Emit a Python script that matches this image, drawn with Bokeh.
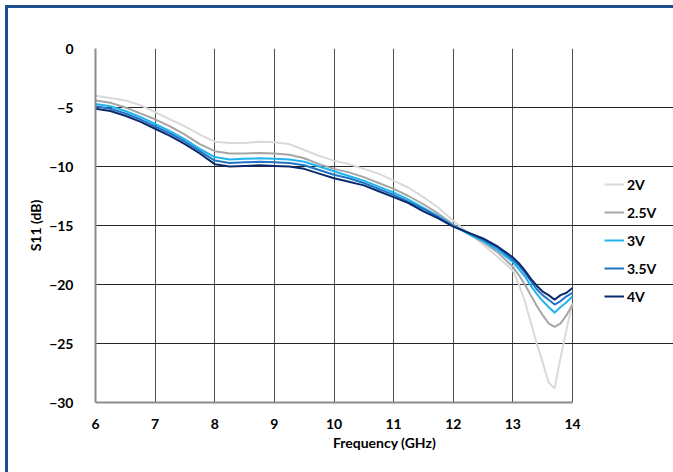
from bokeh.plotting import figure
from bokeh.models import Range1d, FixedTicker, Legend, LegendItem
from bokeh.embed import file_html
from bokeh.resources import INLINE

freq = [6.0, 6.25, 6.5, 6.75, 7.0, 7.25, 7.5, 7.75, 8.0, 8.25, 8.5, 8.75, 9.0, 9.25,
        9.5, 9.75, 10.0, 10.25, 10.5, 10.75, 11.0, 11.25, 11.5, 11.75, 12.0, 12.25,
        12.5, 12.75, 13.0, 13.1, 13.2, 13.3, 13.4, 13.5, 13.6, 13.7, 13.8, 13.9, 14.0]

s11_2v = [-4.0, -4.2, -4.4, -4.8, -5.4, -6.0, -6.6, -7.3, -7.9, -8.0, -8.0, -7.9, -7.95, -8.1,
          -8.6, -9.1, -9.5, -9.8, -10.2, -10.6, -11.2, -11.8, -12.6, -13.5, -14.6, -15.6,
          -16.6, -17.7, -18.8, -20.0, -21.4, -23.2, -25.0, -26.6, -28.3, -28.8, -26.2, -23.8, -21.6]
s11_25v = [-4.4, -4.6, -5.0, -5.5, -6.0, -6.6, -7.3, -8.1, -8.7, -8.9, -8.9, -8.85, -8.9, -9.0,
           -9.3, -9.8, -10.2, -10.5, -10.9, -11.4, -11.9, -12.5, -13.2, -14.0, -14.9, -15.7,
           -16.4, -17.3, -18.5, -19.2, -20.0, -20.9, -21.8, -22.6, -23.3, -23.6, -23.3, -22.6, -21.7]
s11_3v = [-4.7, -4.9, -5.3, -5.8, -6.4, -7.0, -7.7, -8.5, -9.2, -9.4, -9.35, -9.3, -9.35, -9.4,
          -9.6, -10.0, -10.4, -10.8, -11.2, -11.7, -12.2, -12.8, -13.5, -14.2, -15.0, -15.7,
          -16.3, -17.1, -18.1, -18.7, -19.3, -20.1, -20.8, -21.4, -21.9, -22.4, -21.9, -21.5, -21.0]
s11_35v = [-4.9, -5.1, -5.5, -6.0, -6.6, -7.2, -7.9, -8.7, -9.5, -9.7, -9.65, -9.6, -9.65, -9.7,
           -9.9, -10.3, -10.7, -11.0, -11.4, -11.9, -12.4, -13.0, -13.6, -14.3, -15.05, -15.6,
           -16.2, -16.9, -17.9, -18.4, -19.0, -19.7, -20.4, -20.9, -21.3, -21.7, -21.4, -21.0, -20.7]
s11_4v = [-5.1, -5.3, -5.7, -6.2, -6.8, -7.4, -8.1, -8.9, -9.8, -10.0, -9.95, -9.9, -9.95, -10.0,
          -10.2, -10.6, -11.0, -11.3, -11.6, -12.1, -12.6, -13.1, -13.8, -14.4, -15.1, -15.6,
          -16.1, -16.8, -17.7, -18.2, -18.8, -19.5, -20.1, -20.6, -20.9, -21.3, -20.9, -20.7, -20.3]

series_labels = ["2V", "2.5V", "3V", "3.5V", "4V"]
series_values = [s11_2v, s11_25v, s11_3v, s11_35v, s11_4v]
series_colors = ["#d9d9d9", "#a6a6a6", "#1fb4f0", "#1f74c4", "#0b2a6b"]

x_ticks = [6, 7, 8, 9, 10, 11, 12, 13, 14]
y_ticks = [0, -5, -10, -15, -20, -25, -30]

FONT = "Lato"
X_MIN, X_MAX = 6, 14
W, H = 673, 472
# extra room on the right of the plot area (in GHz units) to hold the legend
X_EXTRA = (W - 95 - 477) / (477 / 8)

p = figure(width=W, height=H, output_backend="svg", toolbar_location=None,
           x_range=Range1d(X_MIN, X_MAX + X_EXTRA), y_range=Range1d(-30, 0),
           min_border_left=95, min_border_right=0, min_border_top=48, min_border_bottom=70)
# blue frame on the top and left edges, painted under the transparent border area
p.styles = {"box-shadow": "inset 5px 5px 0px 0px #ffffff, inset 8px 8px 0px 0px #1F4E8C"}

p.background_fill_color = "white"
p.border_fill_alpha = 0
p.outline_line_color = None

p.xaxis.ticker = FixedTicker(ticks=x_ticks)
p.yaxis.ticker = FixedTicker(ticks=y_ticks)
p.xaxis.bounds = (X_MIN, X_MAX)
for ax in (p.xaxis[0], p.yaxis[0]):
    ax.major_tick_line_color = None
    ax.minor_tick_line_color = None
    ax.axis_line_color = "#8c8c8c"
    ax.axis_line_width = 2
    ax.major_label_text_font = FONT
    ax.major_label_text_font_style = "bold"
    ax.major_label_text_font_size = "14px"
    ax.major_label_text_color = "black"
    ax.axis_label_text_font = FONT
    ax.axis_label_text_font_style = "bold"
    ax.axis_label_text_font_size = "14px"
    ax.axis_label_text_color = "black"

p.xaxis.axis_label = "Frequency (GHz)"
p.yaxis.axis_label = "S11 (dB)"
p.xaxis.major_label_standoff = 10
p.xaxis.axis_label_standoff = 2
p.yaxis.major_label_standoff = 16
p.yaxis.axis_label_standoff = 2

p.xgrid.ticker = FixedTicker(ticks=x_ticks)
p.ygrid.ticker = FixedTicker(ticks=y_ticks)
p.ygrid.bounds = (X_MIN, X_MAX)
p.xgrid.grid_line_color = "#4d4d4d"
p.ygrid.grid_line_color = "#262626"
p.xgrid.grid_line_width = 1
p.ygrid.grid_line_width = 1

items = []
for lab, vals, col in zip(series_labels, series_values, series_colors):
    r = p.line(freq, vals, line_color=col, line_width=2)
    items.append(LegendItem(label=lab, renderers=[r]))

legend = Legend(items=items, location=(509, 96), orientation="vertical",
                border_line_color=None, background_fill_alpha=0,
                padding=0, margin=0, spacing=8, glyph_width=20, glyph_height=20,
                label_standoff=3, label_height=20,
                label_text_font=FONT, label_text_font_style="bold",
                label_text_font_size="14px", label_text_color="black")
p.add_layout(legend)

open("out.html", "w").write(file_html(p, INLINE))
